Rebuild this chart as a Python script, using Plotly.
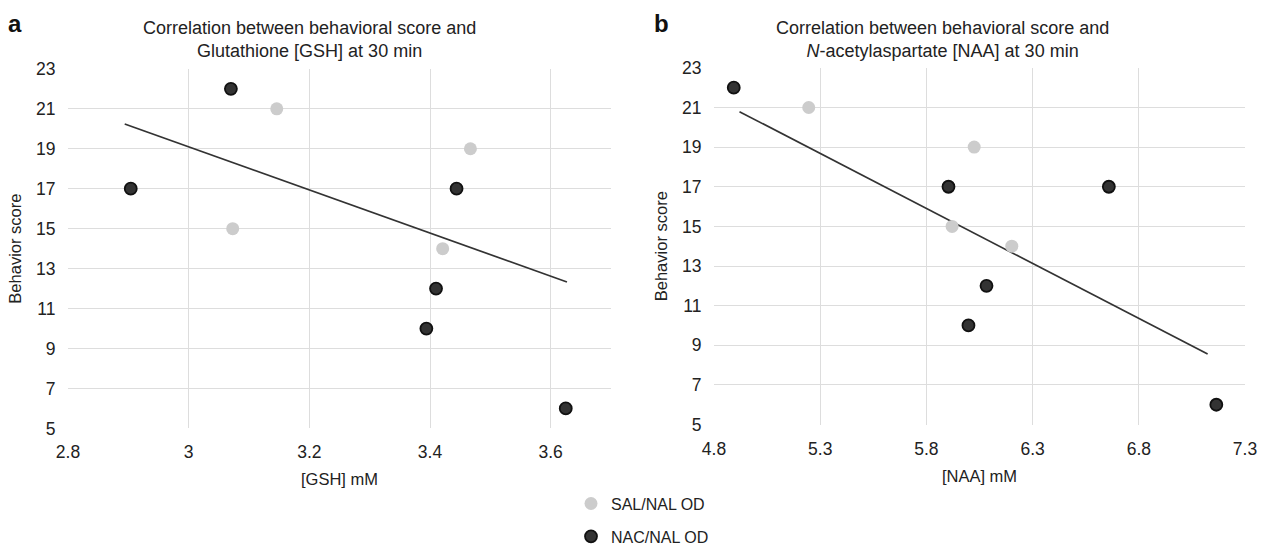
import plotly.graph_objects as go

# ---- Data ----
# Panel a: GSH (mM) vs behaviour score
gsh_sal_x = [3.146, 3.073, 3.467, 3.421]
gsh_sal_y = [21, 15, 19, 14]
gsh_nac_x = [2.904, 3.070, 3.444, 3.410, 3.394, 3.625]
gsh_nac_y = [17, 22, 17, 12, 10, 6]
gsh_trend_x = [2.894, 3.627]
gsh_trend_y = [20.24, 12.33]

# Panel b: NAA (mM) vs behaviour score
naa_sal_x = [5.246, 6.025, 5.921, 6.202]
naa_sal_y = [21, 19, 15, 14]
naa_nac_x = [4.893, 5.904, 6.659, 6.083, 5.998, 7.165]
naa_nac_y = [22, 17, 17, 12, 10, 6]
naa_trend_x = [4.920, 7.124]
naa_trend_y = [20.79, 8.56]

y_ticks = [5, 7, 9, 11, 13, 15, 17, 19, 21, 23]
gsh_ticks = [2.8, 3.0, 3.2, 3.4, 3.6]
gsh_tick_text = ["2.8", "3", "3.2", "3.4", "3.6"]
naa_ticks = [4.8, 5.3, 5.8, 6.3, 6.8, 7.3]

FONT = "Liberation Sans, Arial, sans-serif"
TXT = "#222222"
GRID = "#dddddd"
SAL_COLOR = "#cccccc"
NAC_COLOR = "#333333"
NAC_EDGE = "#111111"

fig = go.Figure()

# Panel a
fig.add_trace(go.Scatter(x=gsh_trend_x, y=gsh_trend_y, mode="lines",
                         line=dict(color="#333333", width=1.7),
                         showlegend=False, hoverinfo="skip",
                         xaxis="x", yaxis="y"))
fig.add_trace(go.Scatter(x=gsh_sal_x, y=gsh_sal_y, mode="markers", name="SAL/NAL OD",
                         legendgroup="sal",
                         marker=dict(color=SAL_COLOR, size=13, line=dict(width=0)),
                         xaxis="x", yaxis="y"))
fig.add_trace(go.Scatter(x=gsh_nac_x, y=gsh_nac_y, mode="markers", name="NAC/NAL OD",
                         legendgroup="nac",
                         marker=dict(color=NAC_COLOR, size=12,
                                     line=dict(color=NAC_EDGE, width=1.8)),
                         xaxis="x", yaxis="y"))

# Panel b
fig.add_trace(go.Scatter(x=naa_trend_x, y=naa_trend_y, mode="lines",
                         line=dict(color="#333333", width=1.7),
                         showlegend=False, hoverinfo="skip",
                         xaxis="x2", yaxis="y2"))
fig.add_trace(go.Scatter(x=naa_sal_x, y=naa_sal_y, mode="markers", name="SAL/NAL OD",
                         legendgroup="sal", showlegend=False,
                         marker=dict(color=SAL_COLOR, size=13, line=dict(width=0)),
                         xaxis="x2", yaxis="y2"))
fig.add_trace(go.Scatter(x=naa_nac_x, y=naa_nac_y, mode="markers", name="NAC/NAL OD",
                         legendgroup="nac", showlegend=False,
                         marker=dict(color=NAC_COLOR, size=12,
                                     line=dict(color=NAC_EDGE, width=1.8)),
                         xaxis="x2", yaxis="y2"))

H = 554.0
W = 1266.0
ydom_a = [(H - 442) / H, (H - 71) / H]
ydom_b = [(H - 438) / H, (H - 70) / H]
common_axis = dict(showgrid=True, gridcolor=GRID, gridwidth=1.3, zeroline=False,
                   showline=False, ticks="outside", ticklen=8,
                   tickcolor="rgba(0,0,0,0)", automargin=False,
                   tickfont=dict(family=FONT, size=17.5, color=TXT))
title_font = dict(family=FONT, size=16.5, color=TXT)

fig.update_layout(
    width=1266, height=554,
    paper_bgcolor="white", plot_bgcolor="white",
    margin=dict(l=0, r=0, t=0, b=0),
    font=dict(family=FONT, color=TXT),
    xaxis=dict(domain=[68 / W, 611 / W], range=[2.8, 3.7], tickvals=gsh_ticks,
               ticktext=gsh_tick_text, anchor="y",
               title=dict(text="[GSH] mM", font=title_font, standoff=12),
               **common_axis),
    yaxis=dict(domain=ydom_a, range=[5, 23], tickvals=y_ticks, anchor="x",
               title=dict(text="Behavior score", font=title_font, standoff=10),
               **common_axis),
    xaxis2=dict(domain=[714 / W, 1245 / W], range=[4.8, 7.3], tickvals=naa_ticks,
                anchor="y2",
                title=dict(text="[NAA] mM", font=title_font, standoff=12),
                **common_axis),
    yaxis2=dict(domain=ydom_b, range=[5, 23], tickvals=y_ticks, anchor="x2",
                title=dict(text="Behavior score", font=title_font, standoff=10),
                **common_axis),
    legend=dict(x=571 / W, xanchor="left", y=(H - 502) / H, yanchor="top",
                orientation="v", tracegroupgap=9,
                font=dict(family=FONT, size=16, color=TXT),
                bgcolor="rgba(0,0,0,0)"),
    showlegend=True,
)

annotations = [
    dict(text="Correlation between behavioral score and<br>Glutathione [GSH] at 30 min",
         x=309 / W, y=(H - 41) / H, xref="paper", yref="paper", xanchor="center",
         yanchor="middle", showarrow=False, font=dict(family=FONT, size=18, color=TXT)),
    dict(text="Correlation between behavioral score and<br><i>N</i>-acetylaspartate [NAA] at 30 min",
         x=942 / W, y=(H - 41) / H, xref="paper", yref="paper", xanchor="center",
         yanchor="middle", showarrow=False, font=dict(family=FONT, size=18, color=TXT)),
    dict(text="<b>a</b>", x=6 / W, y=(H - 8) / H, xref="paper", yref="paper",
         xanchor="left", yanchor="top", showarrow=False,
         font=dict(family=FONT, size=24, color="#111111")),
    dict(text="<b>b</b>", x=652 / W, y=(H - 8) / H, xref="paper", yref="paper",
         xanchor="left", yanchor="top", showarrow=False,
         font=dict(family=FONT, size=24, color="#111111")),
]
fig.update_layout(annotations=annotations)

# Remove the default page margin so the figure sits at the window's origin
fig.write_html("out.html",
               config={"displayModeBar": False},
               post_script="document.body.style.margin='0';document.body.style.overflow='hidden';")
